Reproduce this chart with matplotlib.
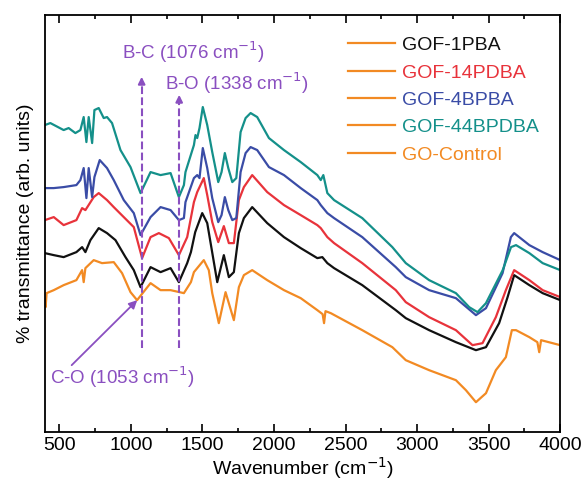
import numpy as np
import matplotlib.pyplot as plt

plt.rcParams['font.family'] = ['Liberation Sans', 'DejaVu Sans']

# wavenumber / transmittance (arb. units)
wn_teal = [400, 438, 531, 566, 613, 648, 671, 690, 706, 730, 746, 776, 811, 834, 869, 928, 998,
           1068, 1138, 1208, 1278, 1336, 1371, 1382, 1441, 1452, 1464, 1480, 1503, 1534, 1569,
           1611, 1634, 1657, 1681, 1709, 1737, 1767, 1802, 1837, 1883, 1965, 2070, 2187, 2303,
           2327, 2345, 2373, 2420, 2617, 2827, 2921, 3084, 3271, 3364, 3422, 3481, 3598, 3656,
           3691, 3784, 3877, 4000]
t_teal = [307, 309, 302, 304, 299, 302, 315, 290, 315, 289, 322, 324, 314, 315, 309, 282, 265,
          239, 260, 257, 259, 235, 247, 260, 287, 297, 294, 304, 325, 307, 280,
          250, 260, 279, 264, 250, 254, 300, 314, 319, 315, 294, 282, 270, 257,
          252, 257, 239, 232, 214, 185, 169, 152, 139, 125, 120, 129, 162, 185,
          187, 179, 169, 162]

wn_blue = [400, 462, 531, 620, 648, 671, 690, 706, 730, 746, 783, 834, 881, 951, 1021, 1068,
           1138, 1208, 1278, 1336, 1371, 1382, 1441, 1464, 1480, 1503, 1534, 1569, 1611, 1634,
           1657, 1681, 1709, 1737, 1767, 1802, 1837, 1883, 1965, 2070, 2187, 2303, 2327, 2373,
           2420, 2617, 2851, 2921, 3084, 3271, 3411, 3481, 3597, 3655, 3678, 3784, 3877, 4000]
t_blue = [244, 244, 245, 247, 252, 264, 234, 264, 235, 255, 272, 264, 252, 232, 219, 197,
          215, 225, 222, 212, 214, 230, 254, 257, 254, 284, 264, 234, 210, 217,
          235, 222, 212, 214, 260, 279, 285, 282, 265, 257, 244, 232, 227, 219,
          214, 195, 165, 155, 142, 134, 117, 124, 159, 195, 199, 187, 180, 172]

wn_red = [400, 462, 531, 620, 660, 683, 741, 776, 834, 881, 951, 1021, 1079, 1138, 1196, 1266,
          1336, 1394, 1441, 1464, 1487, 1510, 1534, 1569, 1611, 1650, 1685, 1720, 1755, 1790,
          1848, 1953, 2070, 2187, 2303, 2327, 2373, 2420, 2617, 2851, 2921, 3084, 3271, 3387,
          3457, 3550, 3620, 3678, 3784, 3877, 4000]
t_red = [212, 215, 207, 212, 224, 222, 235, 239, 232, 225, 215, 205, 174, 195, 199, 194,
         177, 195, 230, 240, 247, 254, 237, 210, 190, 206, 189, 189, 232, 245,
         257, 240, 227, 217, 207, 204, 195, 189, 169, 142, 130, 115, 102, 87,
         89, 115, 142, 162, 152, 142, 135]

wn_black = [400, 462, 531, 620, 660, 683, 718, 776, 834, 893, 963, 1021, 1068, 1138, 1208, 1278,
            1336, 1394, 1420, 1450, 1499, 1534, 1604, 1650, 1685, 1720, 1755, 1790, 1848, 1953,
            2070, 2187, 2303, 2338, 2373, 2420, 2617, 2851, 2921, 3084, 3271, 3411, 3481, 3573,
            3632, 3678, 3784, 3877, 4000]
t_black = [179, 177, 175, 180, 185, 180, 192, 204, 199, 192, 175, 162, 145, 165, 160, 164,
           150, 169, 180, 200, 219, 209, 150, 177, 155, 160, 199, 214, 225, 209,
           195, 184, 174, 175, 169, 164, 147, 122, 114, 102, 90, 82, 85, 109,
           135, 157, 147, 139, 132]

wn_orange = [400, 405, 412, 462, 531, 620, 660, 671, 683, 741, 799, 881, 939, 998, 1044, 1138,
             1208, 1278, 1371, 1420, 1441, 1510, 1545, 1569, 1615, 1662, 1720, 1755, 1790, 1848,
             1953, 2070, 2187, 2303, 2340, 2350, 2360, 2397, 2617, 2827, 2921, 3084, 3271, 3341,
             3411, 3481, 3550, 3620, 3662, 3691, 3784, 3840, 3853, 3866, 4000]
t_orange = [132, 125, 139, 142, 147, 152, 162, 150, 164, 172, 169, 170, 159, 140, 132, 149,
            142, 142, 139, 150, 160, 172, 162, 139, 109, 140, 112, 145, 157, 162,
            152, 142, 134, 122, 118, 109, 121, 119, 102, 85, 72, 62, 52, 42,
            30, 39, 62, 75, 102, 102, 95, 90, 80, 92, 87]

labels = ['GOF-1PBA', 'GOF-14PDBA', 'GOF-4BPBA', 'GOF-44BPDBA', 'GO-Control']
colors = ['#111111', '#e8333b', '#3a4ca6', '#14908a', '#f28a23']

fig = plt.figure(figsize=(5.83, 4.84), dpi=100)
ax = fig.add_axes([0.077, 0.107, 0.884, 0.862])

ax.plot(wn_black, t_black, color=colors[0], lw=1.6)
ax.plot(wn_red, t_red, color=colors[1], lw=1.6)
ax.plot(wn_blue, t_blue, color=colors[2], lw=1.6)
ax.plot(wn_teal, t_teal, color=colors[3], lw=1.6)
ax.plot(wn_orange, t_orange, color=colors[4], lw=1.6)

# legend: all handles orange, text in series colour
handles = [plt.Line2D([], [], color=colors[4], lw=1.6) for _ in labels]
leg = ax.legend(handles, labels, loc='upper left', bbox_to_anchor=(0.554, 0.99), frameon=False,
                fontsize=14, handlelength=2.4, labelspacing=0.5, handletextpad=0.4)
for txt, c in zip(leg.get_texts(), colors):
    txt.set_color(c)

purple = '#8a4fc0'
ax.plot([1076, 1076], [84, 350], color=purple, ls='--', lw=1.5)
ax.plot([1338, 1338], [84, 332], color=purple, ls='--', lw=1.5)
ax.annotate('', xy=(1076, 358), xytext=(1076, 345),
            arrowprops=dict(arrowstyle='-|>', color=purple, lw=1.5, mutation_scale=10))
ax.annotate('', xy=(1338, 340), xytext=(1338, 327),
            arrowprops=dict(arrowstyle='-|>', color=purple, lw=1.5, mutation_scale=10))
ax.text(1441, 380, 'B-C (1076 cm$^{-1}$)', color=purple, fontsize=13.5, ha='center', va='center')
ax.text(1240, 349, 'B-O (1338 cm$^{-1}$)', color=purple, fontsize=13.5, ha='left', va='center')
ax.text(944, 55, 'C-O (1053 cm$^{-1}$)', color=purple, fontsize=13.5, ha='center', va='center')
ax.annotate('', xy=(1045, 132), xytext=(587, 67),
            arrowprops=dict(arrowstyle='-|>', color=purple, lw=1.3, mutation_scale=12,
                            shrinkA=0, shrinkB=0))

ax.set_xlim(400, 4000)
ax.set_ylim(0, 417)
ax.set_xticks([500, 1000, 1500, 2000, 2500, 3000, 3500, 4000])
ax.set_xticks(np.arange(750, 4000, 500), minor=True)
ax.set_yticks([])
ax.tick_params(axis='x', which='both', direction='in', top=True, labelsize=14)
ax.tick_params(axis='x', which='major', length=6, width=1.2)
ax.tick_params(axis='x', which='minor', length=3, width=1.2)
for s in ax.spines.values():
    s.set_linewidth(1.3)

ax.set_xlabel('Wavenumber (cm$^{-1}$)', fontsize=14, labelpad=1)
ax.set_ylabel('% transmittance (arb. units)', fontsize=14, labelpad=8)

fig.savefig('out.png', dpi=100)
